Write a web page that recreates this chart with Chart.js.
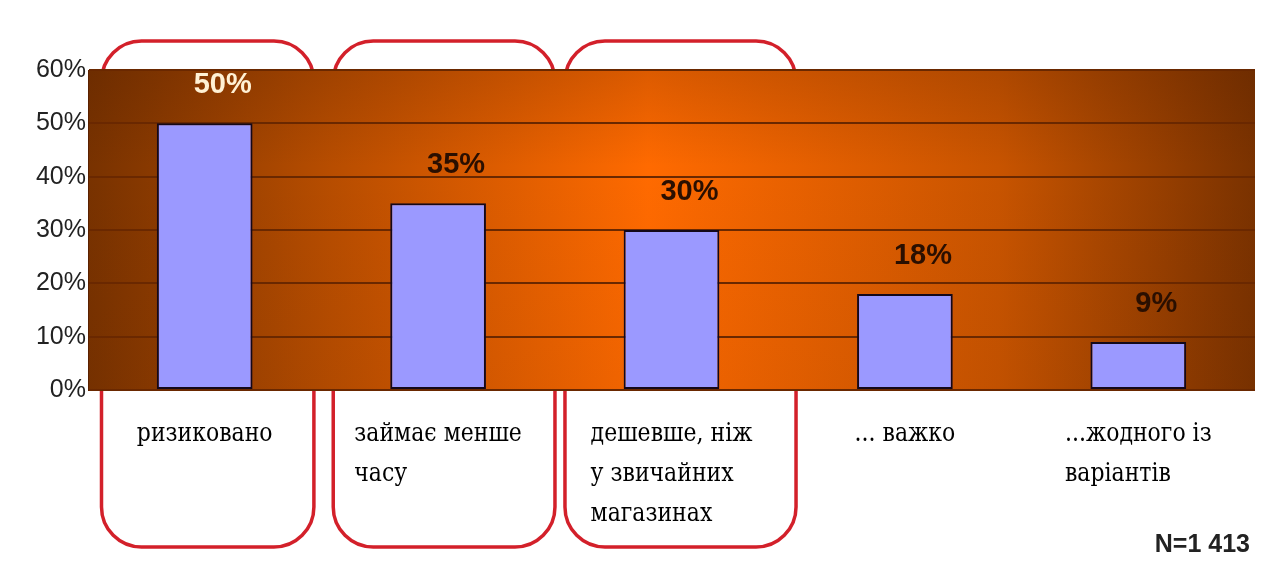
<!DOCTYPE html>
<html><head><meta charset="utf-8">
<script src="https://cdn.jsdelivr.net/npm/chart.js@4.4.1/dist/chart.umd.min.js"></script>
<style>html,body{margin:0;padding:0;background:#fff}#wrap{width:1278px;height:562px;position:relative}</style>
</head><body><div id="wrap"><canvas id="c" width="1278" height="562"></canvas></div>
<script>
// ---- data ----
const categories = [['ризиковано'], ['займає менше', 'часу'], ['дешевше, ніж', 'у звичайних', 'магазинах'], ['... важко'], ['...жодного із', 'варіантів']];
const values = [50, 35, 30, 18, 9];
const valueLabels = ['50%', '35%', '30%', '18%', '9%'];
const highlighted = [true, true, true, false, false];
const yMax = 60;
const yStep = 10;
const sampleNote = 'N=1 413';

// ---- styles ----
const labelColors = ['#fff1d4', '#2a0f00', '#2a0f00', '#2a0f00', '#2a0f00'];

const decor = {
  id: 'decor',
  beforeDraw(chart) {
    const ctx = chart.ctx, ca = chart.chartArea, x = chart.scales.x;
    ctx.save();
    ctx.fillStyle = '#ffffff';
    ctx.fillRect(0, 0, chart.width, chart.height);
    // red rounded frames behind plot
    const catW = (ca.right - ca.left) / categories.length;
    ctx.strokeStyle = '#d3202a';
    ctx.lineWidth = 3.5;
    highlighted.forEach((h, i) => {
      if (!h) return;
      const cx = x.getPixelForValue(i) + 3 + i * 3;
      const w = catW * (0.91 + i * 0.04);
      const l = cx - w / 2, t = ca.top - 29, b = chart.height - 15;
      ctx.beginPath();
      ctx.roundRect(l, t, w, b - t, 40);
      ctx.stroke();
    });
    // plot background gradient
    const g = ctx.createLinearGradient(ca.left, 0, ca.right, 0);
    g.addColorStop(0, '#783200');
    g.addColorStop(0.2, '#b54c00');
    g.addColorStop(0.48, '#ff6a00');
    g.addColorStop(0.78, '#c85400');
    g.addColorStop(1, '#7a3200');
    ctx.fillStyle = g;
    ctx.fillRect(ca.left, ca.top, ca.right - ca.left, ca.bottom - ca.top);
    const v = ctx.createLinearGradient(0, ca.top, 0, ca.bottom);
    v.addColorStop(0, 'rgba(60,20,0,0.18)');
    v.addColorStop(0.3, 'rgba(60,20,0,0)');
    v.addColorStop(1, 'rgba(60,20,0,0.05)');
    ctx.fillStyle = v;
    ctx.fillRect(ca.left, ca.top, ca.right - ca.left, ca.bottom - ca.top);
    ctx.restore();
  },
  afterDraw(chart) {
    const ctx = chart.ctx, ca = chart.chartArea, x = chart.scales.x;
    const meta = chart.getDatasetMeta(0);
    ctx.save();
    // value labels
    ctx.font = 'bold 29px "Liberation Sans", Arial, sans-serif';
    ctx.textAlign = 'center';
    ctx.textBaseline = 'middle';
    meta.data.forEach((bar, i) => {
      ctx.fillStyle = labelColors[i];
      ctx.fillText(valueLabels[i], bar.x + 18, bar.y - 38);
    });
    // category labels (left-aligned blocks, centered under category)
    ctx.font = '22px "DejaVu Serif", serif';
    ctx.fillStyle = '#000';
    ctx.textAlign = 'left';
    ctx.textBaseline = 'middle';
    categories.forEach((lines, i) => {
      const w = Math.max(...lines.map(s => ctx.measureText(s).width));
      const left = x.getPixelForValue(i) - w / 2;
      lines.forEach((s, k) => {
        const yy = ca.bottom + 44 + k * 40;
        ctx.save();
        ctx.translate(left, yy);
        ctx.scale(1, 1.2);
        ctx.fillText(s, 0, 0);
        ctx.restore();
      });
    });
    // sample size
    ctx.font = 'bold 25px "Liberation Sans", Arial, sans-serif';
    ctx.fillStyle = '#222';
    ctx.textAlign = 'right';
    ctx.textBaseline = 'alphabetic';
    ctx.fillText(sampleNote, 1250, 552);
    ctx.restore();
  }
};

new Chart(document.getElementById('c'), {
  type: 'bar',
  data: {
    labels: categories,
    datasets: [{
      data: values,
      backgroundColor: '#9b99ff',
      borderColor: '#14081a',
      borderWidth: 2,
      borderSkipped: false,
      barPercentage: 0.41,
      categoryPercentage: 1
    }]
  },
  options: {
    responsive: false,
    animation: false,
    devicePixelRatio: 1,
    layout: { padding: { left: 0, right: 23, top: 70, bottom: 172 } },
    plugins: { legend: { display: false }, tooltip: { enabled: false } },
    scales: {
      x: { display: false },
      y: {
        min: 0, max: yMax,
        afterFit(s) { s.width = 88; },
        ticks: {
          stepSize: yStep,
          padding: 2,
          color: '#222',
          font: { family: '"Liberation Sans", Arial, sans-serif', size: 25 },
          callback: v => v + '%'
        },
        grid: { color: '#6a2800', lineWidth: 2, drawTicks: false },
        border: { display: true, color: '#5a2000', width: 1 }
      }
    }
  },
  plugins: [decor]
});
</script>
</body></html>
